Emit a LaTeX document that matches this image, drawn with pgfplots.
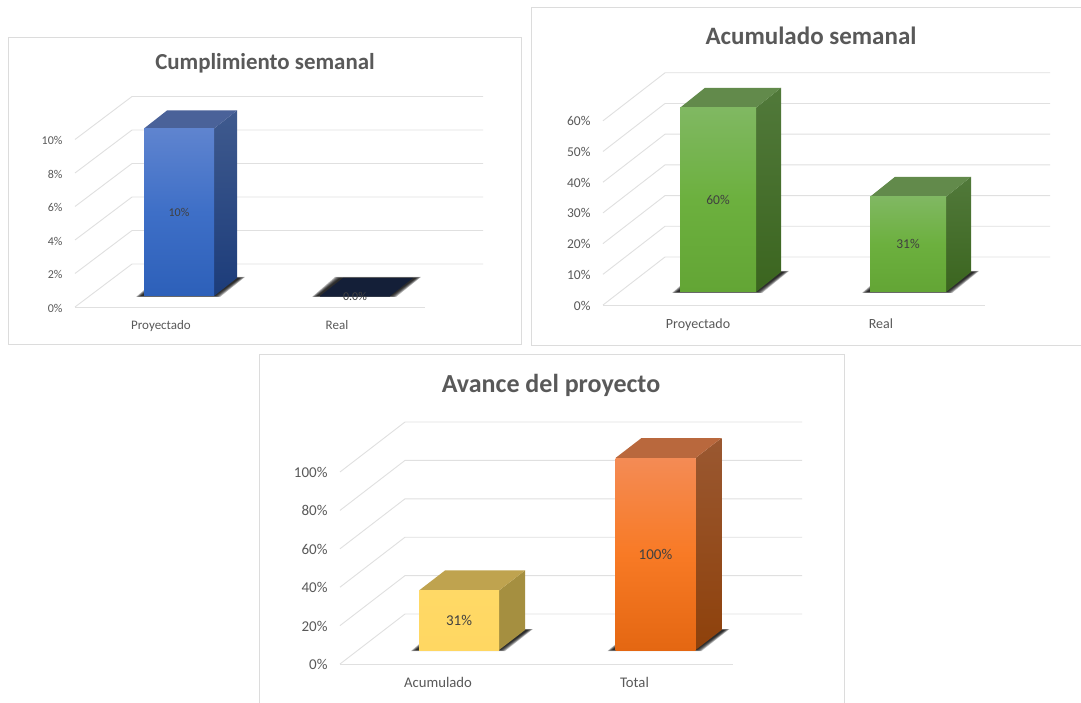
\documentclass[border=0pt]{standalone}
\usepackage{fontspec}
\setmainfont{Carlito}
\usepackage{pgfplots}
\pgfplotsset{compat=1.18}

\definecolor{textgray}{HTML}{595959}
\definecolor{labelgray}{HTML}{404040}
\definecolor{wallgray}{HTML}{E0E0E0}
\definecolor{framegray}{HTML}{DCDCDC}
% Bar palette: front top, front middle, front bottom, side top, side bottom, top face
\definecolor{blueA}{HTML}{5F84CF}\definecolor{blueM}{HTML}{3E6FC7}\definecolor{blueB}{HTML}{2D60B9}
\definecolor{blueC}{HTML}{3F5A8E}\definecolor{blueD}{HTML}{1C3C7A}
\definecolor{blueE}{HTML}{4A6299}
\definecolor{navy}{HTML}{141F38}
\definecolor{greenA}{HTML}{80B862}\definecolor{greenM}{HTML}{6CB03E}\definecolor{greenB}{HTML}{63A535}
\definecolor{greenC}{HTML}{51793A}\definecolor{greenD}{HTML}{3B651F}
\definecolor{greenE}{HTML}{628A4B}
\definecolor{yellowA}{HTML}{FFD966}\definecolor{yellowM}{HTML}{FFD864}\definecolor{yellowB}{HTML}{FFD762}
\definecolor{yellowC}{HTML}{A58F40}\definecolor{yellowD}{HTML}{A58F40}
\definecolor{yellowE}{HTML}{BFA34F}
\definecolor{orangeA}{HTML}{F48B55}\definecolor{orangeM}{HTML}{F87A25}\definecolor{orangeB}{HTML}{E46712}
\definecolor{orangeC}{HTML}{9A5831}\definecolor{orangeD}{HTML}{8E410B}
\definecolor{orangeE}{HTML}{B9683D}

% Chart geometry in page units: box, category origin and spacing, value scale,
% floor end, wall depth, bar base, bar half width, bar depth.
\newcommand\setupchart[9]{%
  \def\cL{#1}\def\cR{#2}\def\cB{#3}\def\cT{#4}\def\cZ{#5}\def\cS{#6}\def\cY{#7}%
  \def\cFloor{#8}\def\cDx{#9}\setupchartb}
\newcommand\setupchartb[5]{%
  \pgfmathsetmacro\xmn{(\cL-\cZ)/\cS}%
  \pgfmathsetmacro\xmx{(\cR-\cZ)/\cS}%
  \pgfmathsetmacro\xfl{(\cFloor-\cZ)/\cS}%
  \pgfmathsetmacro\xbk{\xmn+\cDx/\cS}%
  \pgfmathsetmacro\wdy{#1/\cY}%
  \pgfmathsetmacro\ymx{(\cB-\cT)/\cY}%
  \pgfmathsetmacro\bbase{(\cB-#2)/\cY}%
  \pgfmathsetmacro\bmn{-\bbase}%
  \pgfmathsetmacro\bmx{\ymx-\bbase}%
  \pgfmathsetmacro\bw{#3*2}%
  \pgfmathsetmacro\hw{#3/\cS}%
  \pgfmathsetmacro\bdx{#4/\cS}%
  \pgfmathsetmacro\bdy{#5/\cY}%
  \pgfmathsetmacro\ux{1/\cS}%
  \pgfmathsetmacro\uy{1/\cY}%
  \pgfmathsetmacro\boxw{\cR-\cL}%
  \pgfmathsetmacro\boxh{\cB-\cT}%
  \pgfmathsetmacro\boxy{702-\cB}%
}

\pgfplotsset{
  chartbox/.style={
    at={(\cL pt,\boxy pt)}, anchor=south west,
    scale only axis, width=\boxw pt, height=\boxh pt,
    xmin=\xmn, xmax=\xmx, clip=false,
    axis line style={draw=none},
    major tick length=0pt,
  },
  wall/.style={draw=wallgray, line width=0.9pt, forget plot},
}

% Side walls and floor: one bent grid line per value tick
\newcommand\wallgrid[1]{%
  \pgfplotsinvokeforeach{#1}{%
    \pgfmathsetmacro\yb{##1+\wdy}%
    \addplot[wall] coordinates {(\xmn,##1) (\xbk,\yb) (\xmx,\yb)};
  }%
  \addplot[wall] coordinates {(\xmn,0) (\xfl,0)};
}

% Soft shadow on the floor, then side, top and front of one bar with its label
\newcommand\cuboid[5]{%
  \pgfmathsetmacro\xl{#1-\hw}%
  \pgfmathsetmacro\xr{#1+\hw}%
  \pgfmathsetmacro\xrb{\xr+\bdx}%
  \pgfmathsetmacro\xlb{\xl+\bdx}%
  \pgfmathsetmacro\yt{#2+\bdy}%
  \pgfmathsetmacro\halfv{#2/2}%
  \pgfplotsinvokeforeach{5,4,3,2,1,0}{%
    \pgfmathsetmacro\sa{\xl-(3+##1)*\ux}%
    \pgfmathsetmacro\sb{\xr+(1+##1)*\ux}%
    \pgfmathsetmacro\sc{\xrb+(3+##1)*\ux}%
    \pgfmathsetmacro\sd{\xlb-(3+##1)*\ux}%
    \pgfmathsetmacro\se{-0.2*##1*\uy}%
    \pgfmathsetmacro\sf{\bdy+0.2*##1*\uy}%
    \addplot[fill=black, draw=none, fill opacity=0.25, forget plot]
      coordinates {(\sa,\se) (\sb,\se) (\sc,\sf) (\sd,\sf)} --cycle;
  }%
  \ifdim#2pt>0pt
    \addplot[shade, top color=#4C, bottom color=#4D, draw=none, forget plot]
      coordinates {(\xr,0) (\xrb,\bdy) (\xrb,\yt) (\xr,#2)} --cycle;
    \addplot[fill=#4E, draw=none, forget plot]
      coordinates {(\xl,#2) (\xr,#2) (\xrb,\yt) (\xlb,\yt)} --cycle;
    \addplot[ybar, bar width=\bw pt, bar shift=0pt, draw=none, forget plot,
      shade, top color=#4A, bottom color=#4B, middle color=#4M]
      coordinates {(#1,#2)};
  \else
    \addplot[fill=#4, draw=none, forget plot]
      coordinates {(\xl,0) (\xr,0) (\xrb,\bdy) (\xlb,\bdy)} --cycle;
    \addplot[ybar, bar width=\bw pt, bar shift=0pt, draw=#4, forget plot]
      coordinates {(#1,#2)};
  \fi
  \addplot[only marks, mark=none, forget plot, point meta=y,
    nodes near coords={#3},
    every node near coord/.style={anchor=center, text=labelgray, font=\chartfont}]
    coordinates {(#1,\halfv)};
}

\begin{document}
\begin{tikzpicture}[x=1pt,y=1pt]
\path[use as bounding box] (0,0) rectangle (1081,702);
\clip (0,0) rectangle (1081,702);
\fill[white] (0,0) rectangle (1081,702);

% Panel frames
\draw[framegray, line width=0.9pt] (8.5,358) rectangle (521,665);
\draw[framegray, line width=0.9pt] (531.5,357) rectangle (1090,695);
\draw[framegray, line width=0.9pt] (259.5,-10) rectangle (844,348);

% Titles
\node[text=textgray, font=\fontsize{22.9}{26}\selectfont\bfseries] at (265,639) {Cumplimiento semanal};
\node[text=textgray, font=\fontsize{25}{28}\selectfont\bfseries] at (811,666) {Acumulado semanal};
\node[text=textgray, font=\fontsize{26}{29}\selectfont\bfseries] at (551,317) {Avance del proyecto};

% ---- Cumplimiento semanal ----
\def\chartfont{\fontsize{12}{14}\selectfont}
\setupchart{75}{483}{307}{96}{179}{176}{16.75}{425}{57}{43}{296}{35}{23}{18}
\begin{axis}[chartbox, ymin=0, ymax=\ymx,
  ytick={0,2,...,10}, xtick={0,1}, xticklabels={Proyectado,Real},
  /pgf/number format/assume math mode=true,
  yticklabel={\pgfmathprintnumber{\tick}\%},
  ticklabel style={font=\chartfont, text=textgray},
  yticklabel style={xshift=-9pt, yshift=-1pt},
  xticklabel style={xshift=-18pt, yshift=-10pt, font=\fontsize{13}{15}\selectfont}]
  \wallgrid{0,2,4,6,8,10}
\end{axis}
\begin{axis}[chartbox, ymin=\bmn, ymax=\bmx, hide axis]
  \cuboid{0}{10}{10\%}{blue}{}
  \cuboid{1}{0}{0.0\%}{navy}{}
\end{axis}

% ---- Acumulado semanal ----
\def\chartfont{\fontsize{13.5}{16}\selectfont}
\setupchart{603}{1050}{305}{72}{718}{190}{3.07}{985}{62}{48}{292}{38}{25}{20}
\begin{axis}[chartbox, ymin=0, ymax=\ymx,
  ytick={0,10,...,60}, xtick={0,0.963}, xticklabels={Proyectado,Real},
  /pgf/number format/assume math mode=true,
  yticklabel={\pgfmathprintnumber{\tick}\%},
  ticklabel style={font=\chartfont, text=textgray},
  yticklabel style={xshift=-9pt, yshift=-0.5pt},
  xticklabel style={xshift=-20pt, yshift=-10pt, font=\fontsize{14}{16}\selectfont}]
  \wallgrid{0,10,20,30,40,50,60}
\end{axis}
\begin{axis}[chartbox, ymin=\bmn, ymax=\bmx, hide axis]
  \cuboid{0}{60}{60\%}{green}{}
  \cuboid{1}{31}{31\%}{green}{}
\end{axis}

% ---- Avance del proyecto ----
\def\chartfont{\fontsize{15}{17}\selectfont}
\setupchart{340}{802}{664}{422}{459}{196.5}{1.92}{733}{65}{50}{650}{40}{26}{20}
\begin{axis}[chartbox, ymin=0, ymax=\ymx,
  ytick={0,20,...,100}, xtick={0,1}, xticklabels={Acumulado,Total},
  /pgf/number format/assume math mode=true,
  yticklabel={\pgfmathprintnumber{\tick}\%},
  ticklabel style={font=\chartfont, text=textgray},
  yticklabel style={xshift=-9pt, yshift=-0.5pt},
  xticklabel style={xshift=-21pt, yshift=-10pt, font=\fontsize{14.7}{17}\selectfont}]
  \wallgrid{0,20,40,60,80,100}
\end{axis}
\begin{axis}[chartbox, ymin=\bmn, ymax=\bmx, hide axis]
  \cuboid{0}{31}{31\%}{yellow}{}
  \cuboid{1}{100}{100\%}{orange}{}
\end{axis}
\end{tikzpicture}
\end{document}
